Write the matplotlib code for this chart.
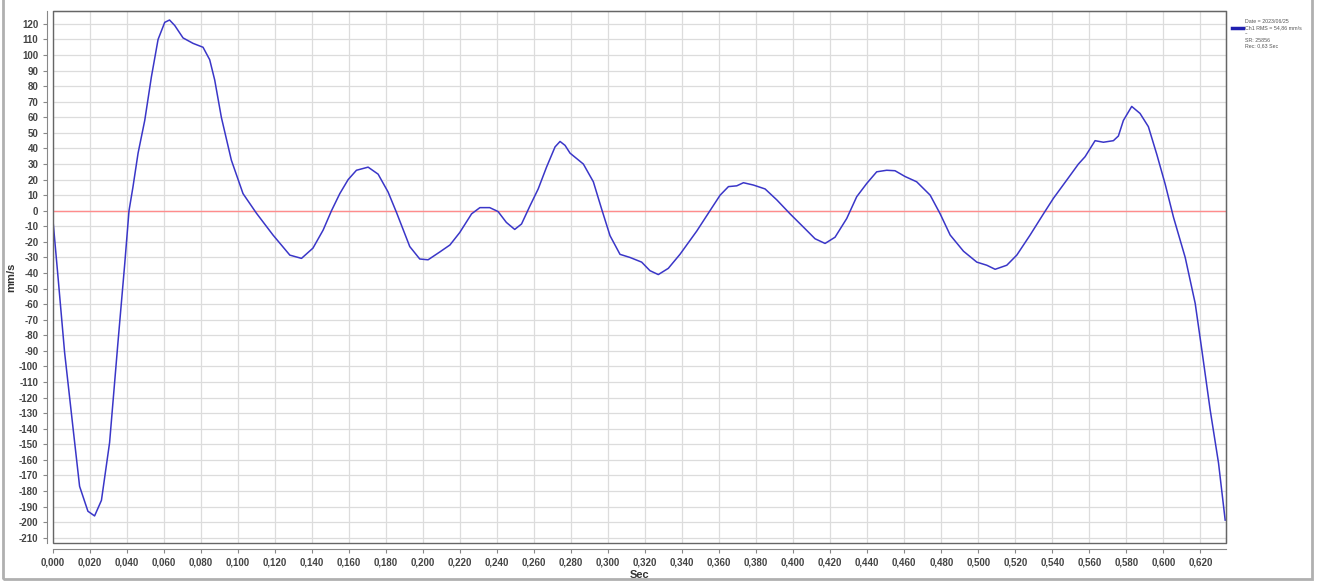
import numpy as np
import matplotlib.pyplot as plt
from matplotlib.patches import Rectangle
from matplotlib.ticker import FuncFormatter

plt.rcParams['font.family'] = ['Liberation Sans', 'DejaVu Sans']

# waveform (sec, mm/s)
t_sec = [0.0000, 0.0027, 0.0063, 0.0108, 0.0144, 0.0189, 0.0225, 0.0262, 0.0306, 0.0351,
         0.0388, 0.0411, 0.0432, 0.0460, 0.0496, 0.0532, 0.0568, 0.0604, 0.0630, 0.0658,
         0.0703, 0.0757, 0.0811, 0.0847, 0.0874, 0.0910, 0.0964, 0.1027, 0.1099, 0.1189,
         0.1280, 0.1343, 0.1405, 0.1460, 0.1505, 0.1550, 0.1595, 0.1640, 0.1703, 0.1757,
         0.1811, 0.1856, 0.1928, 0.1982, 0.2027, 0.2090, 0.2145, 0.2198, 0.2262, 0.2307,
         0.2360, 0.2405, 0.2450, 0.2495, 0.2532, 0.2577, 0.2622, 0.2667, 0.2713, 0.2740,
         0.2767, 0.2794, 0.2866, 0.2920, 0.2965, 0.3010, 0.3064, 0.3118, 0.3181, 0.3226,
         0.3271, 0.3325, 0.3388, 0.3479, 0.3550, 0.3605, 0.3650, 0.3695, 0.3731, 0.3785,
         0.3848, 0.3911, 0.3983, 0.4055, 0.4118, 0.4172, 0.4226, 0.4289, 0.4343, 0.4397,
         0.4451, 0.4505, 0.4550, 0.4604, 0.4667, 0.4740, 0.4794, 0.4848, 0.4920, 0.4992,
         0.5046, 0.5091, 0.5154, 0.5208, 0.5280, 0.5352, 0.5406, 0.5478, 0.5541, 0.5577,
         0.5631, 0.5676, 0.5730, 0.5757, 0.5784, 0.5829, 0.5874, 0.5919, 0.5965, 0.6010,
         0.6055, 0.6118, 0.6172, 0.6208, 0.6253, 0.6298, 0.6334]
vel = [-6, -42, -91, -139, -177, -193, -196, -186, -149, -85,
       -34, 0, 15, 37, 58, 86, 110, 121, 122.5, 119,
       111, 107.5, 105, 97, 84, 60, 32.5, 11, -1.5, -15.6,
       -28.5, -30.6, -24, -12.4, 0, 11, 20, 26, 28, 23.5,
       12, -1, -23, -31, -31.5, -26.5, -22, -14, -2, 2,
       2, -0.5, -7.5, -12, -8.5, 3, 14, 28, 41, 44.5,
       42, 37, 30, 18.6, 1, -16, -28, -30, -33, -38.5,
       -41, -37, -28, -13, 0, 10, 15.5, 16, 18, 16.5,
       14, 7, -2, -10.5, -18, -21, -17, -5, 9, 17.5,
       25, 26, 25.7, 22, 18.6, 10, -2, -15.6, -26, -33,
       -35, -37.6, -35, -28.5, -15.6, -2, 8, 19.7, 30, 34.7,
       45, 44, 45, 48, 58, 67, 62.5, 54, 36, 17,
       -4.3, -30, -59.5, -89.5, -128, -162, -198.7]

legend_lines = ["Date = 2023/06/25", "Ch1 RMS = 54,86 mm/s", "--", "SR: 25856", "Rec: 0,63 Sec"]

fig = plt.figure(figsize=(13.17, 5.84), dpi=100)
ax = fig.add_axes([0.0402, 0.0702, 0.8905, 0.911])

ax.axhline(0, color='#ff8c8c', lw=1.0, zorder=2)
ax.plot(t_sec, vel, color='#3a36c8', lw=1.1, zorder=3)

ax.set_xlim(0, 0.6337)
ax.set_ylim(-213.4, 128.3)
ax.set_xticks(np.arange(0, 0.621, 0.02))
ax.set_yticks(np.arange(-210, 121, 10))
ax.xaxis.set_major_formatter(FuncFormatter(lambda x, p: f"{x:.3f}".replace('.', ',')))
ax.yaxis.set_major_formatter(FuncFormatter(lambda y, p: f"{y:.0f}"))
ax.grid(True, color='#dcdcdc', lw=0.9)
ax.set_axisbelow(True)

for s in ['left', 'bottom']:
    ax.spines[s].set_position(('outward', 4))
    ax.spines[s].set_color('#888888')
for s in ['top', 'right']:
    ax.spines[s].set_color('#555555')
# frame of the plot area
ax.add_patch(Rectangle((0, 0), 1, 1, transform=ax.transAxes, fill=False,
                       edgecolor='#666666', lw=1.0, clip_on=False, zorder=4))

ax.tick_params(axis='both', labelsize=7, colors='#888888', labelcolor='#444444', length=3)
for lab in ax.get_xticklabels() + ax.get_yticklabels():
    lab.set_fontweight('bold')
ax.set_xlabel('Sec', fontsize=8, fontweight='bold', color='#333333', labelpad=2)
ax.set_ylabel('mm/s', fontsize=8, fontweight='bold', color='#333333')
ax.yaxis.set_label_coords(-0.031, 0.5)

# legend box at the right
fig.lines.append(plt.Line2D([0.9355, 0.9435], [0.952, 0.952], transform=fig.transFigure,
                            color='#2020b0', lw=2.5))
for i, txt in enumerate(legend_lines):
    fig.text(0.9455, 0.963 - i * 0.0105, txt, fontsize=3.8, color='#555555', va='center')

# outer window frame
fig.patches.append(Rectangle((0.0025, 0.008), 0.994, 1.2, transform=fig.transFigure,
                             fill=False, edgecolor='#b0b0b0', lw=2.0))

fig.savefig('out.png', dpi=100)
